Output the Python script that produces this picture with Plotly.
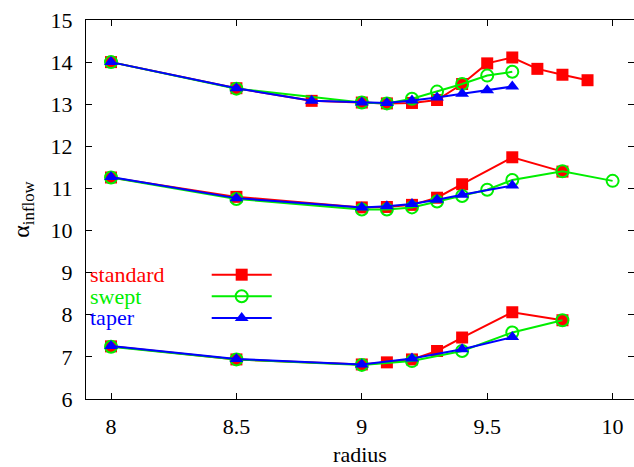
import plotly.graph_objects as go

# ---- data ----
std_top_x = [8.0, 8.5, 8.8, 9.0, 9.1, 9.2, 9.3, 9.4, 9.5, 9.6, 9.7, 9.8, 9.9]
std_top_y = [14.0, 13.38, 13.08, 13.04, 13.02, 13.03, 13.10, 13.48, 13.97, 14.11, 13.84, 13.70, 13.57]
std_mid_x = [8.0, 8.5, 9.0, 9.1, 9.2, 9.3, 9.4, 9.6, 9.8]
std_mid_y = [11.26, 10.80, 10.55, 10.56, 10.61, 10.78, 11.10, 11.74, 11.40]
std_bot_x = [8.0, 8.5, 9.0, 9.1, 9.2, 9.3, 9.4, 9.6, 9.8]
std_bot_y = [7.25, 6.94, 6.82, 6.87, 6.94, 7.14, 7.46, 8.06, 7.87]

swp_top_x = [8.0, 8.5, 9.0, 9.1, 9.2, 9.3, 9.4, 9.5, 9.6]
swp_top_y = [14.0, 13.37, 13.04, 13.02, 13.13, 13.30, 13.48, 13.68, 13.77]
swp_mid_x = [8.0, 8.5, 9.0, 9.1, 9.2, 9.3, 9.4, 9.5, 9.6, 9.8, 10.0]
swp_mid_y = [11.26, 10.75, 10.50, 10.50, 10.55, 10.69, 10.82, 10.97, 11.20, 11.41, 11.18]
swp_bot_x = [8.0, 8.5, 9.0, 9.2, 9.4, 9.6, 9.8]
swp_bot_y = [7.24, 6.94, 6.81, 6.90, 7.14, 7.58, 7.87]

tap_top_x = [8.0, 8.5, 8.8, 9.0, 9.1, 9.2, 9.3, 9.4, 9.5, 9.6]
tap_top_y = [14.0, 13.38, 13.08, 13.04, 13.03, 13.09, 13.16, 13.25, 13.33, 13.42]
tap_mid_x = [8.0, 8.5, 9.0, 9.1, 9.2, 9.3, 9.4, 9.6]
tap_mid_y = [11.27, 10.77, 10.55, 10.58, 10.63, 10.73, 10.85, 11.07]
tap_bot_x = [8.0, 8.5, 9.0, 9.2, 9.4, 9.6]
tap_bot_y = [7.26, 6.95, 6.82, 6.96, 7.18, 7.47]

series_names = ["standard", "swept", "taper"]
x_ticks = [8, 8.5, 9, 9.5, 10]
x_tick_labels = ["8", "8.5", "9", "9.5", "10"]
y_ticks = [6, 7, 8, 9, 10, 11, 12, 13, 14, 15]


def join(*groups):
    out = []
    for i, g in enumerate(groups):
        if i:
            out.append(None)
        out.extend(g)
    return out


FONT = "Liberation Serif"
FS = 22
styles = [
    dict(color="#ff0000", symbol="square", size=12, mline=0),
    dict(color="#00ee00", symbol="circle-open", size=12, mline=2),
    dict(color="#0000ff", symbol="triangle-up", size=12, mline=0),
]
xs = [join(std_top_x, std_mid_x, std_bot_x),
      join(swp_top_x, swp_mid_x, swp_bot_x),
      join(tap_top_x, tap_mid_x, tap_bot_x)]
ys = [join(std_top_y, std_mid_y, std_bot_y),
      join(swp_top_y, swp_mid_y, swp_bot_y),
      join(tap_top_y, tap_mid_y, tap_bot_y)]

fig = go.Figure()
for name, x, y, st in zip(series_names, xs, ys, styles):
    fig.add_trace(go.Scatter(
        x=x, y=y, mode="lines+markers", name=name, connectgaps=False,
        line=dict(color=st["color"], width=2),
        marker=dict(symbol=st["symbol"], size=st["size"], color=st["color"],
                    line=dict(color=st["color"], width=st["mline"])),
        showlegend=False))

# custom gnuplot-style key: text on the left, sample on the right
key_y = [0.328, 0.271, 0.214]
for name, st, ky in zip(series_names, styles, key_y):
    fig.add_trace(go.Scatter(
        x=[0.2294, 0.2841, 0.3389], y=[ky, ky, ky], xaxis="x2", yaxis="y2",
        mode="lines", line=dict(color=st["color"], width=2),
        showlegend=False, hoverinfo="skip"))
    fig.add_trace(go.Scatter(
        x=[0.2841], y=[ky], xaxis="x2", yaxis="y2", mode="markers",
        marker=dict(symbol=st["symbol"], size=st["size"], color=st["color"],
                    line=dict(color=st["color"], width=st["mline"])),
        showlegend=False, hoverinfo="skip"))
    fig.add_annotation(x=0.0045, y=ky, xref="paper", yref="paper",
                       text=name, showarrow=False, xanchor="left", yanchor="middle",
                       font=dict(family=FONT, size=FS, color=st["color"]))

axis_common = dict(showline=True, linecolor="black", linewidth=1, mirror="ticks",
                   ticks="inside", ticklen=6, tickcolor="black", showgrid=False,
                   zeroline=False, tickfont=dict(family=FONT, size=FS, color="black"))

fig.update_layout(
    width=634, height=467,
    margin=dict(l=86, r=0, t=20, b=68),
    paper_bgcolor="white", plot_bgcolor="white",
    font=dict(family=FONT, size=FS, color="black"),
    xaxis=dict(range=[7.9003, 10.0853], tickvals=x_ticks, ticktext=x_tick_labels,
               title=dict(text="radius", font=dict(family=FONT, size=FS), standoff=10),
               ticklabelstandoff=8, **axis_common),
    yaxis=dict(range=[6, 15], tickvals=y_ticks,
               title=dict(text="α<sub>inflow</sub>", font=dict(family=FONT, size=FS + 2), standoff=14),
               ticklabelstandoff=8, **axis_common),
    xaxis2=dict(range=[0, 1], overlaying="x", visible=False, fixedrange=True),
    yaxis2=dict(range=[0, 1], overlaying="y", visible=False, fixedrange=True),
)

fig.write_html("out.html")
